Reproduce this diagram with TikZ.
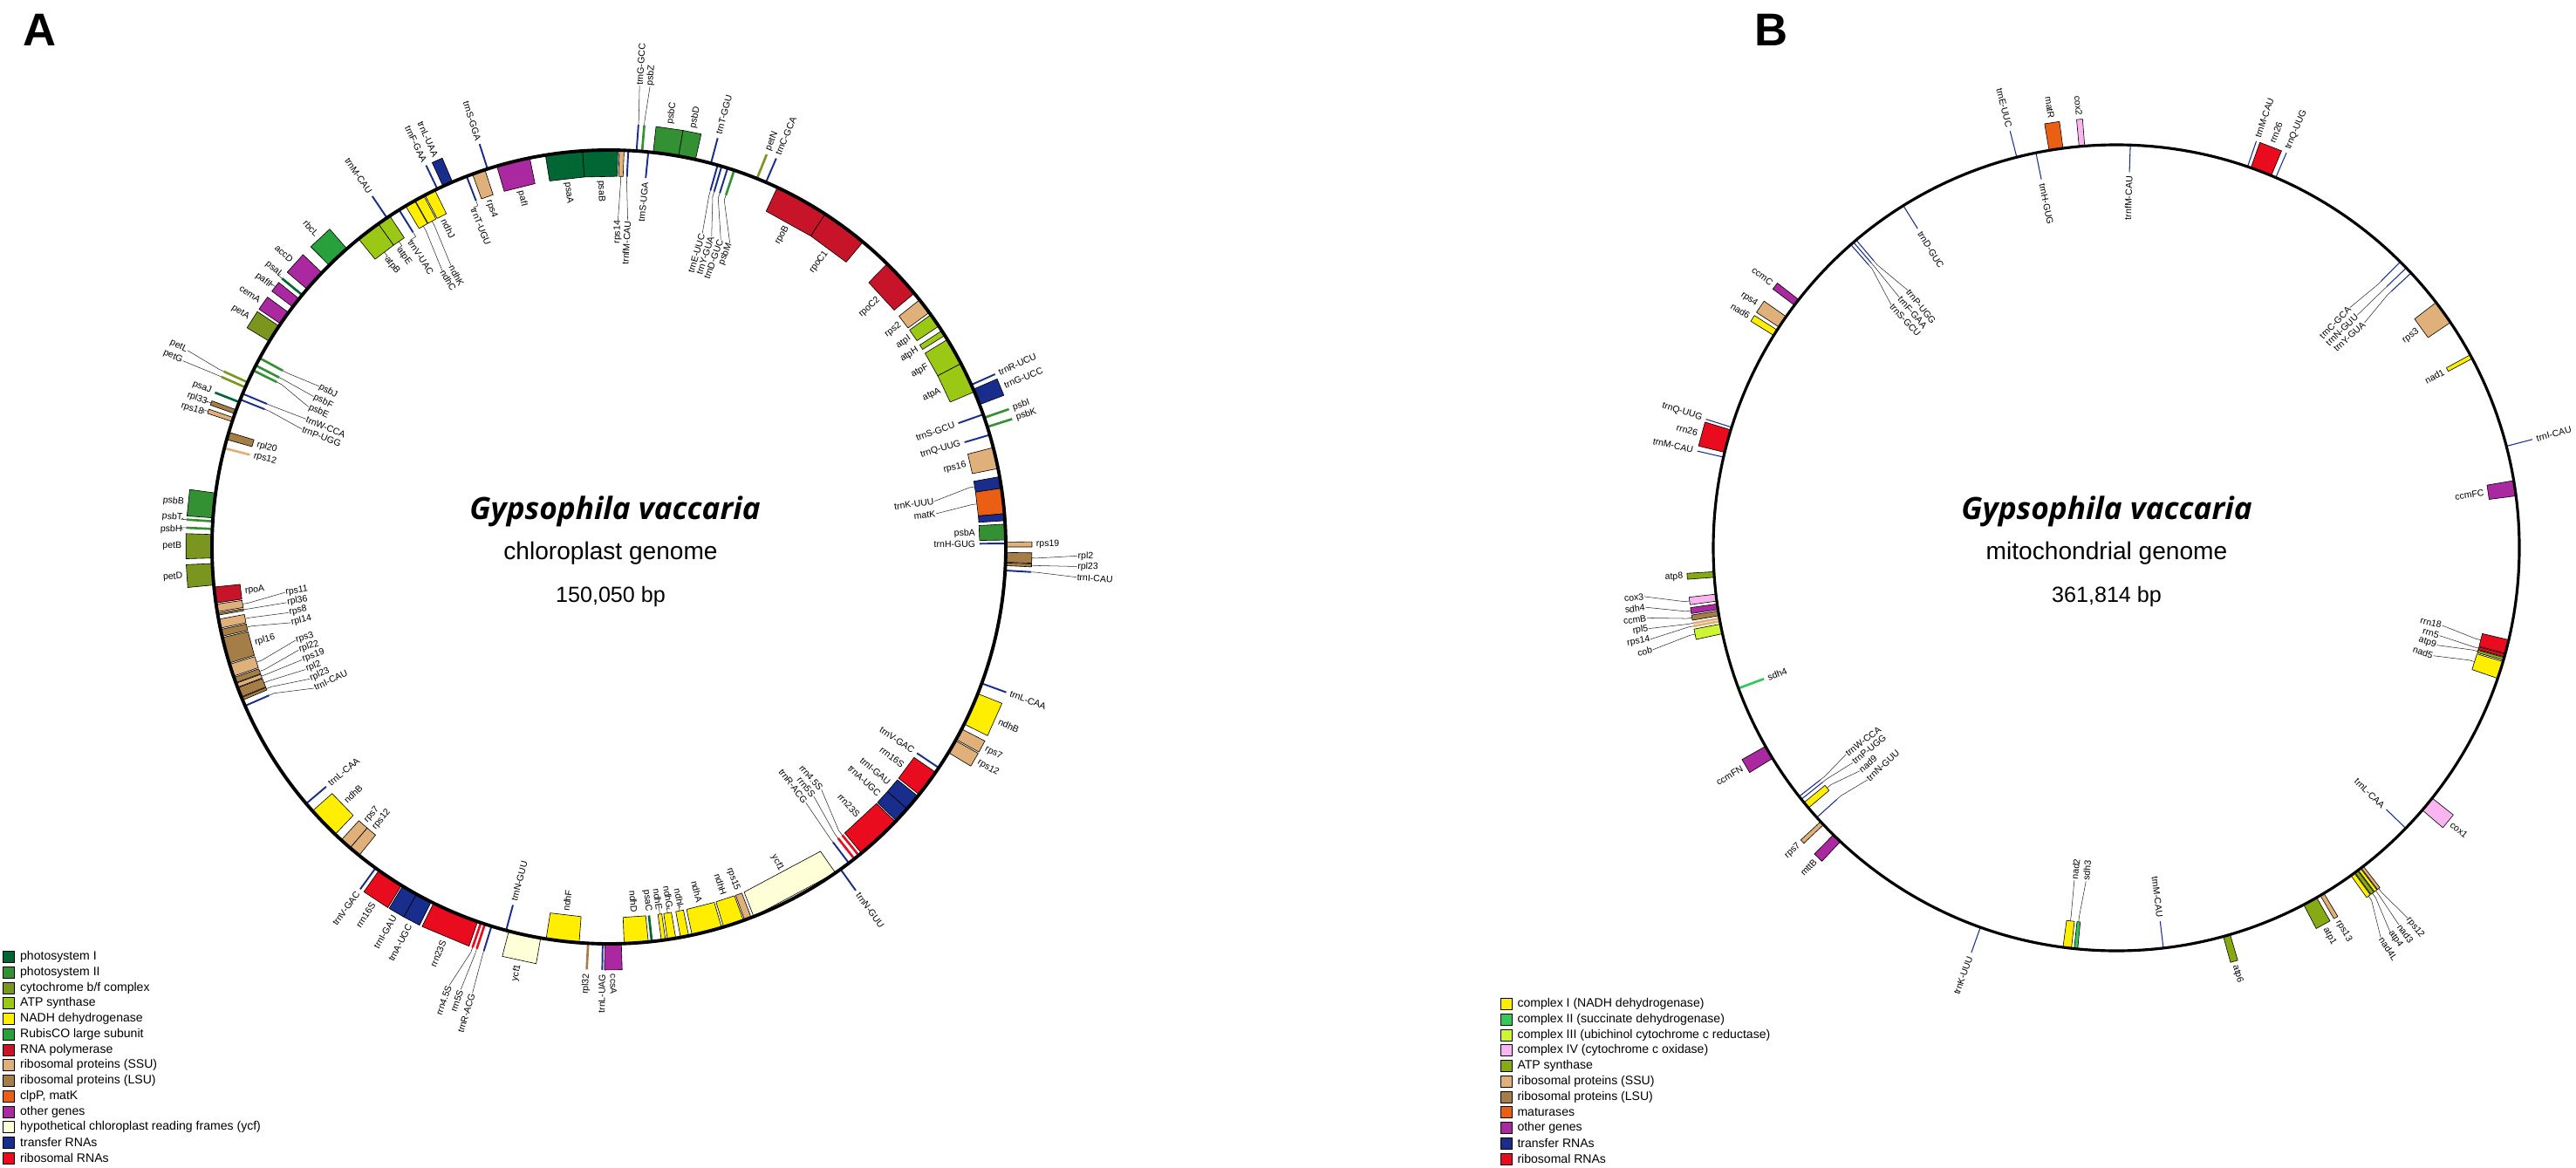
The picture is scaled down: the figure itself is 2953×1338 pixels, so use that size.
\documentclass[tikz,border=0pt]{standalone}
\usepackage{fontspec}
\setmainfont{Liberation Sans}
\newfontfamily\titlefont{Open Sans}
\usetikzlibrary{positioning}

\definecolor{psI}{RGB}{0,102,51}
\definecolor{psII}{RGB}{51,145,51}
\definecolor{cytbf}{RGB}{122,150,30}
\definecolor{atps}{RGB}{155,200,20}
\definecolor{ndh}{RGB}{255,238,0}
\definecolor{rbc}{RGB}{40,160,60}
\definecolor{rpo}{RGB}{200,20,40}
\definecolor{ssu}{RGB}{224,176,122}
\definecolor{lsu}{RGB}{165,125,70}
\definecolor{mat}{RGB}{235,95,20}
\definecolor{oth}{RGB}{170,40,160}
\definecolor{ycf}{RGB}{255,255,215}
\definecolor{trn}{RGB}{25,45,140}
\definecolor{rrn}{RGB}{232,12,30}
\definecolor{cxII}{RGB}{50,200,90}
\definecolor{cxIII}{RGB}{205,245,50}
\definecolor{cxIV}{RGB}{250,180,240}
\definecolor{atpm}{RGB}{135,170,20}

\tikzstyle{genebox}=[draw=black, line width=0.35pt, line join=round]
\tikzstyle{glab}=[inner sep=0.3pt, font=\fontsize{6}{7}\selectfont]
\tikzstyle{leader}=[draw=black!85, line width=0.3pt]
\tikzstyle{trna}=[draw=trn, line width=1.1pt]
\tikzstyle{tg}=[line width=1.5pt]
\tikzstyle{ring}=[draw=black, line width=2.2pt]
\tikzstyle{legbox}=[rectangle, draw=black, line width=0.4pt, minimum size=7.4pt, inner sep=0pt]
\tikzstyle{legtxt}=[inner sep=0pt, font=\fontsize{8}{9}\selectfont]
\tikzstyle{mapname}=[anchor=base, font=\titlefont\fontsize{20}{24}\selectfont\bfseries\itshape]
\tikzstyle{mapkind}=[anchor=base, font=\fontsize{16}{19}\selectfont]
\tikzstyle{mapsize}=[anchor=base, font=\fontsize{14.3}{17}\selectfont]
\tikzstyle{panel}=[anchor=base west, inner sep=0pt, font=\fontsize{30}{36}\selectfont\bfseries]

\newcounter{lbl}
\newcommand{\glabel}[5]{%
  \stepcounter{lbl}%
  \pgfmathsetmacro{\gsM}{90-(#2)}%
  \ifdim #4pt=0pt
    \let\gsL\gsM
    \pgfmathsetmacro{\gsR}{\gR+(#1)*(\gH+4)}%
  \else
    \pgfmathsetmacro{\gsL}{90-(#3)}%
    \pgfmathsetmacro{\gsR}{\gR+(#1)*(#4)}%
  \fi
  \pgfmathsetmacro{\gsD}{(#1)>0 ? \gsL : \gsL+180}%
  \pgfmathsetmacro{\gsD}{mod(\gsD+720,360)}%
  \pgfmathtruncatemacro{\gsF}{and(\gsD>90,\gsD<270)}%
  \ifnum\gsF=1
    \def\gsAnc{east}\pgfmathsetmacro{\gsRot}{\gsD-180}%
  \else
    \def\gsAnc{west}\let\gsRot\gsD
  \fi
  \node[glab, rotate=\gsRot, anchor=\gsAnc] (L\thelbl) at (\gsL:\gsR) {#5};
  \ifdim #4pt>0pt
    \pgfmathsetmacro{\gsE}{\gR+(#1)*\gH}%
    \pgfmathsetmacro{\gsK}{\gR+(#1)*(\gH+6)}%
    \draw[leader] (\gsM:\gsE) -- (\gsM:\gsK) -- (L\thelbl.\gsAnc);
  \fi}
\newcommand{\gpart}[4]{%
  \pgfmathsetmacro{\gsA}{90-(#2)}\pgfmathsetmacro{\gsB}{90-(#3)}%
  \pgfmathsetmacro{\gsT}{\gR+(#1)*\gH}%
  \filldraw[genebox, fill=#4] (\gsA:\gR) -- (\gsA:\gsT) -- (\gsB:\gsT) -- (\gsB:\gR) -- cycle;}
\newcommand{\gbox}[7]{\gpart{#1}{#2}{#3}{#4}\glabel{#1}{(#2+#3)/2}{#6}{#7}{#5}}
\newcommand{\gline}[6]{%
  \pgfmathsetmacro{\gsA}{90-(#2)}\pgfmathsetmacro{\gsT}{\gR+(#1)*\gH}%
  \draw[#3] (\gsA:\gR) -- (\gsA:\gsT);
  \glabel{#1}{#2}{#5}{#6}{#4}}

\begin{document}
\begin{tikzpicture}[x=0.02cm, y=0.02cm]
\useasboundingbox (0,0) rectangle (2953,-1338);

\node (panA) [panel] at (26,-53) {A};
\node (panB) [panel] at (2011,-53) {B};

\begin{scope}[shift={(698,-627)}]
\def\gR{455}\def\gH{30}
\gbox{1}{-58.8}{-56.2}{cytbf}{petA}{}{0}
\gbox{1}{-55.8}{-53.8}{oth}{cemA}{}{0}
\gbox{1}{-52.8}{-51.3}{oth}{pafII}{-52.3}{34}
\gline{1}{-50.6}{tg, psI}{psaI}{-50.3}{34}
\gbox{1}{-49.5}{-46.3}{oth}{accD}{}{0}
\gbox{1}{-44.8}{-41.3}{rbc}{rbcL}{}{0}
\gbox{-1}{-39.1}{-35.5}{atps}{atpB}{-37.6}{36}
\gbox{-1}{-35.5}{-33.5}{atps}{atpE}{-35.2}{36}
\gline{1}{-34.0}{trna}{trnM-CAU}{}{0}
\gline{-1}{-31.9}{trna}{trnV-UAC}{-33.0}{36}
\gbox{-1}{-30.8}{-29.3}{ndh}{ndhC}{-31.1}{85}
\gbox{-1}{-29.2}{-27.8}{ndh}{ndhK}{-29.3}{85}
\gbox{-1}{-27.6}{-26.0}{ndh}{ndhJ}{}{0}
\gline{1}{-25.6}{trna}{trnF-GAA}{}{0}
\gbox{1}{-24.7}{-23.2}{trn}{trnL-UAA}{}{0}
\gline{-1}{-21.0}{trna}{trnT-UGU}{-21.8}{36}
\gbox{-1}{-20.1}{-18.2}{ssu}{rps4}{}{0}
\gline{1}{-17.8}{trna}{trnS-GGA}{}{0}
\gbox{-1}{-16.4}{-11.5}{oth}{pafI}{}{0}
\gbox{-1}{-9.2}{-3.8}{psI}{psaA}{}{0}
\gbox{-1}{-3.8}{1.3}{psI}{psaB}{}{0}
\gbox{-1}{1.5}{2.2}{ssu}{rps14}{1.6}{80}
\gline{-1}{2.8}{trna}{trnfM-CAU}{3.3}{80}
\gline{1}{4.0}{trna}{trnG-GCC}{3.8}{75}
\gline{1}{4.8}{tg, psII}{psbZ}{5.1}{75}
\gline{-1}{5.7}{trna}{trnS-UGA}{}{0}
\gbox{1}{6.4}{10.1}{psII}{psbC}{}{0}
\gbox{1}{10.1}{12.6}{psII}{psbD}{}{0}
\gline{1}{14.9}{trna}{trnT-GGU}{}{0}
\gline{-1}{15.9}{trna}{trnE-UUC}{16.6}{80}
\gline{-1}{16.5}{trna}{trnY-GUA}{18.3}{80}
\gline{-1}{17.4}{trna}{trnD-GUC}{20.0}{80}
\gline{-1}{18.4}{tg, psII}{psbM}{21.7}{80}
\gline{1}{21.9}{tg, cytbf}{petN}{}{0}
\gline{1}{23.3}{trna}{trnC-GCA}{}{0}
\gbox{-1}{25.1}{33.0}{rpo}{rpoB}{}{0}
\gbox{-1}{33.0}{39.8}{rpo}{rpoC1}{}{0}
\gbox{-1}{44.5}{50.3}{rpo}{rpoC2}{}{0}
\gbox{-1}{51.5}{53.8}{ssu}{rps2}{}{0}
\gbox{-1}{54.2}{56.2}{atps}{atpI}{}{0}
\gbox{-1}{57.0}{57.8}{atps}{atpH}{}{0}
\gbox{-1}{58.5}{62.5}{atps}{atpF}{}{0}
\gbox{-1}{62.5}{67.0}{atps}{atpA}{}{0}
\gline{1}{65.9}{trna}{trnR-UCU}{}{0}
\gbox{1}{66.6}{69.0}{trn}{trnG-UCC}{}{0}
\gline{-1}{70.5}{trna}{trnS-GCU}{}{0}
\gline{1}{71.0}{tg, psII}{psbI}{}{0}
\gline{1}{72.4}{tg, psII}{psbK}{}{0}
\gline{-1}{73.6}{trna}{trnQ-UUG}{}{0}
\gbox{-1}{75.5}{78.6}{ssu}{rps16}{}{0}
\gbox{-1}{79.8}{81.5}{trn}{trnK-UUU}{82.0}{78}
\gbox{-1}{81.5}{85.2}{mat}{matK}{84.2}{78}
\gpart{-1}{85.2}{86.2}{trn}
\gbox{-1}{86.7}{89.0}{psII}{psbA}{}{0}
\gline{-1}{89.5}{trna}{trnH-GUG}{}{0}
\gbox{1}{89.3}{90.0}{ssu}{rps19}{}{0}
\gbox{1}{90.8}{92.2}{lsu}{rpl2}{91.1}{82}
\gbox{1}{92.3}{92.7}{lsu}{rpl23}{92.4}{82}
\gline{1}{93.4}{trna}{trnI-CAU}{93.7}{82}
\gline{1}{110.1}{trna}{trnL-CAA}{}{0}
\gbox{1}{111.7}{116.5}{ndh}{ndhB}{}{0}
\gbox{1}{117.3}{119.0}{ssu}{rps7}{}{0}
\gbox{1}{119.2}{121.2}{ssu}{rps12}{}{0}
\gline{-1}{123.8}{trna}{trnV-GAC}{}{0}
\gbox{-1}{124.6}{128.6}{rrn}{rrn16S}{}{0}
\gbox{-1}{128.9}{131.3}{trn}{trnI-GAU}{}{0}
\gbox{-1}{131.3}{133.6}{trn}{trnA-UGC}{}{0}
\gbox{-1}{133.8}{140.5}{rrn}{rrn23S}{}{0}
\gline{-1}{141.0}{tg, rrn}{rrn4.5S}{138.8}{85}
\gline{-1}{141.8}{tg, rrn}{rrn5S}{140.6}{85}
\gline{-1}{142.8}{trna}{trnR-ACG}{142.4}{85}
\gline{1}{144.3}{trna}{trnN-GUU}{}{0}
\gbox{-1}{145.2}{158.6}{ycf}{ycf1}{}{0}
\gbox{-1}{159.0}{160.0}{ssu}{rps15}{}{0}
\gbox{-1}{160.2}{163.2}{ndh}{ndhH}{}{0}
\gbox{-1}{163.5}{167.9}{ndh}{ndhA}{}{0}
\gbox{-1}{168.4}{169.6}{ndh}{ndhI}{168.7}{34}
\gbox{-1}{170.3}{171.5}{ndh}{ndhG}{170.4}{34}
\gbox{-1}{171.8}{172.4}{ndh}{ndhE}{172.1}{34}
\gline{-1}{173.8}{tg, psI}{psaC}{}{0}
\gbox{-1}{174.3}{177.8}{ndh}{ndhD}{}{0}
\gbox{1}{178.2}{180.6}{oth}{ccsA}{}{0}
\gline{1}{180.9}{trna}{trnL-UAG}{}{0}
\gline{1}{183.0}{tg, lsu}{rpl32}{}{0}
\gbox{-1}{184.3}{189.1}{ndh}{ndhF}{}{0}
\gbox{1}{189.9}{194.6}{ycf}{ycf1}{}{0}
\gline{-1}{195.0}{trna}{trnN-GUU}{}{0}
\gline{1}{197.2}{trna}{trnR-ACG}{197.0}{80}
\gline{1}{198.2}{tg, rrn}{rrn5S}{198.5}{80}
\gline{1}{198.8}{tg, rrn}{rrn4.5S}{200.0}{80}
\gbox{1}{199.3}{206.2}{rrn}{rrn23S}{}{0}
\gbox{1}{206.6}{209.0}{trn}{trnA-UGC}{}{0}
\gbox{1}{209.0}{211.3}{trn}{trnI-GAU}{}{0}
\gbox{1}{211.5}{215.4}{rrn}{rrn16S}{}{0}
\gline{1}{216.0}{trna}{trnV-GAC}{}{0}
\gbox{-1}{219.0}{220.7}{ssu}{rps12}{}{0}
\gbox{-1}{220.7}{222.4}{ssu}{rps7}{}{0}
\gbox{-1}{223.6}{228.3}{ndh}{ndhB}{}{0}
\gline{-1}{229.7}{trna}{trnL-CAA}{}{0}
\gline{-1}{246.4}{trna}{trnI-CAU}{244.4}{80}
\gbox{-1}{247.3}{247.7}{lsu}{rpl23}{246.2}{80}
\gbox{-1}{247.8}{249.2}{lsu}{rpl2}{248.0}{80}
\gbox{-1}{249.3}{249.9}{ssu}{rps19}{249.8}{80}
\gbox{-1}{250.0}{250.8}{lsu}{rpl22}{251.6}{80}
\gbox{-1}{251.0}{252.8}{ssu}{rps3}{253.4}{80}
\gbox{-1}{253.0}{256.8}{lsu}{rpl16}{}{0}
\gbox{-1}{257.0}{258.0}{lsu}{rpl14}{256.6}{80}
\gbox{-1}{258.2}{259.5}{ssu}{rps8}{258.4}{80}
\gbox{-1}{260.1}{260.4}{lsu}{rpl36}{260.2}{80}
\gbox{-1}{260.6}{261.7}{ssu}{rps11}{262.0}{80}
\gbox{-1}{261.9}{264.2}{rpo}{rpoA}{}{0}
\gbox{1}{264.5}{267.6}{cytbf}{petD}{}{0}
\gbox{1}{268.4}{271.8}{cytbf}{petB}{}{0}
\gline{1}{272.6}{tg, psII}{psbH}{272.3}{34}
\gline{1}{273.7}{tg, psII}{psbT}{273.9}{34}
\gbox{1}{274.2}{277.8}{psII}{psbB}{}{0}
\gline{-1}{284.4}{tg, ssu}{rps12}{}{0}
\gbox{-1}{285.7}{286.8}{lsu}{rpl20}{}{0}
\gbox{1}{288.4}{289.0}{ssu}{rps18}{288.3}{34}
\gbox{1}{289.6}{290.2}{lsu}{rpl33}{289.8}{34}
\gline{1}{291.4}{tg, psI}{psaJ}{}{0}
\gline{-1}{291.8}{trna}{trnP-UGG}{291.0}{78}
\gline{-1}{292.7}{trna}{trnW-CCA}{292.9}{78}
\gline{1}{293.7}{tg, cytbf}{petG}{293.6}{78}
\gline{1}{294.5}{tg, cytbf}{petL}{295.0}{78}
\gline{-1}{296.4}{tg, psII}{psbE}{295.0}{75}
\gline{-1}{297.2}{tg, psII}{psbF}{297.0}{75}
\gline{-1}{298.4}{tg, psII}{psbJ}{299.0}{75}
\draw[ring] (0,0) circle[radius=\gR];
\end{scope}

\node (nameA) [mapname] at (705,-595) {Gypsophila vaccaria};
\node (kindA) [mapkind] at (700,-641) {chloroplast genome};
\node (sizeA) [mapsize] at (700,-690) {150,050 bp};

\begin{scope}[shift={(2426,-628)}, trna/.style={draw=trn, line width=0.6pt}]
\def\gR{462}\def\gH{31}
\gline{-1}{2.0}{trna}{trnfM-CAU}{}{0}
\gline{1}{19.0}{trna}{trnM-CAU}{}{0}
\gbox{1}{19.5}{22.6}{rrn}{rrn26}{}{0}
\gline{1}{23.3}{trna}{trnQ-UUG}{}{0}
\gline{-1}{44.8}{trna}{trnC-GCA}{44.2}{78}
\gline{-1}{46.0}{trna}{trnN-GUU}{46.0}{78}
\gline{-1}{47.0}{trna}{trnY-GUA}{47.8}{78}
\gbox{-1}{52.5}{56.0}{ssu}{rps3}{}{0}
\gbox{-1}{61.4}{62.0}{ndh}{nad1}{}{0}
\gline{1}{75.4}{trna}{trnI-CAU}{}{0}
\gbox{-1}{80.4}{82.6}{oth}{ccmFC}{}{0}
\gbox{-1}{103.2}{105.2}{rrn}{rrn18}{103.4}{78}
\gbox{-1}{105.3}{105.7}{rrn}{rrn5}{105.2}{78}
\gbox{-1}{105.8}{106.2}{atpm}{atp9}{106.9}{78}
\gbox{-1}{106.4}{108.9}{ndh}{nad5}{108.8}{78}
\gbox{1}{128.4}{130.6}{cxIV}{cox1}{}{0}
\gline{-1}{134.1}{trna}{trnL-CAA}{}{0}
\gbox{1}{142.2}{142.6}{ssu}{rps12}{141.8}{78}
\gbox{1}{142.7}{143.1}{ndh}{nad3}{143.15}{78}
\gbox{1}{143.2}{143.7}{atpm}{atp4}{144.5}{78}
\gbox{1}{143.8}{144.4}{ndh}{nad4L}{145.85}{78}
\gbox{1}{149.0}{149.6}{ssu}{rps13}{}{0}
\gbox{1}{150.2}{152.3}{atpm}{atp1}{}{0}
\gbox{1}{163.6}{164.6}{atpm}{atp6}{}{0}
\gline{-1}{173.3}{trna}{trnM-CAU}{}{0}
\gbox{-1}{185.5}{186.0}{cxII}{sdh3}{185.2}{78}
\gbox{-1}{186.4}{187.6}{ndh}{nad2}{187.2}{78}
\gline{1}{199.7}{trna}{trnK-UUU}{}{0}
\gbox{1}{223.2}{224.6}{oth}{mttB}{}{0}
\gbox{1}{226.6}{227.2}{ssu}{rps7}{}{0}
\gline{-1}{228.0}{trna}{trnN-GUU}{227.0}{72}
\gbox{-1}{229.8}{230.8}{ndh}{nad9}{229.0}{72}
\gline{-1}{231.4}{trna}{trnP-UGG}{230.8}{72}
\gline{-1}{231.9}{trna}{trnW-CCA}{232.6}{72}
\gbox{1}{238.5}{240.5}{oth}{ccmFN}{}{0}
\gline{-1}{249.6}{tg, cxII}{sdh4}{}{0}
\gbox{1}{257.7}{259.1}{cxIII}{cob}{257.6}{82}
\gline{1}{259.5}{tg, ssu}{rps14}{258.9}{82}
\gline{1}{259.9}{tg, ssu}{rpl5}{260.2}{82}
\gbox{1}{260.3}{261.0}{lsu}{ccmB}{261.5}{82}
\gbox{1}{261.2}{262.0}{oth}{sdh4}{262.8}{82}
\gbox{1}{262.4}{263.4}{cxIV}{cox3}{264.1}{82}
\gbox{1}{265.8}{266.6}{atpm}{atp8}{}{0}
\gline{1}{283.0}{trna}{trnM-CAU}{}{0}
\gbox{1}{283.7}{287.0}{rrn}{rrn26}{}{0}
\gline{1}{287.4}{trna}{trnQ-UUG}{}{0}
\gbox{1}{301.8}{302.7}{ndh}{nad6}{}{0}
\gbox{1}{303.2}{305.0}{ssu}{rps4}{}{0}
\gbox{1}{307.0}{308.0}{oth}{ccmC}{}{0}
\gline{-1}{318.8}{trna}{trnS-GCU}{317.2}{82}
\gline{-1}{319.3}{trna}{trnF-GAA}{319.1}{82}
\gline{-1}{319.8}{trna}{trnP-UGG}{321.0}{82}
\gline{-1}{328.1}{trna}{trnD-GUC}{}{0}
\gline{1}{345.7}{trna}{trnE-UUC}{}{0}
\gline{-1}{348.5}{trna}{trnH-GUG}{}{0}
\gbox{1}{350.4}{352.4}{mat}{matR}{}{0}
\gbox{1}{354.7}{355.5}{cxIV}{cox2}{}{0}
\draw[ring, line width=1.8pt] (0,0) circle[radius=\gR];
\end{scope}

\node (nameB) [mapname] at (2415,-595) {Gypsophila vaccaria};
\node (kindB) [mapkind] at (2415,-641) {mitochondrial genome};
\node (sizeB) [mapsize] at (2415,-690) {361,814 bp};

\node (kPSI) [legbox, fill=psI] at (10,-1097) {};
\node (kPSII) [legbox, fill=psII, below=2.3pt of kPSI] {};
\node (kCYT) [legbox, fill=cytbf, below=2.3pt of kPSII] {};
\node (kATP) [legbox, fill=atps, below=2.3pt of kCYT] {};
\node (kNDH) [legbox, fill=ndh, below=2.3pt of kATP] {};
\node (kRBC) [legbox, fill=rbc, below=2.3pt of kNDH] {};
\node (kRPO) [legbox, fill=rpo, below=2.3pt of kRBC] {};
\node (kSSU) [legbox, fill=ssu, below=2.3pt of kRPO] {};
\node (kLSU) [legbox, fill=lsu, below=2.3pt of kSSU] {};
\node (kMAT) [legbox, fill=mat, below=2.3pt of kLSU] {};
\node (kOTH) [legbox, fill=oth, below=2.3pt of kMAT] {};
\node (kYCF) [legbox, fill=ycf, below=2.3pt of kOTH] {};
\node (kTRN) [legbox, fill=trn, below=2.3pt of kYCF] {};
\node (kRRN) [legbox, fill=rrn, below=2.3pt of kTRN] {};
\node (tPSI) [legtxt, right=3.4pt of kPSI] {photosystem I};
\node (tPSII) [legtxt, right=3.4pt of kPSII] {photosystem II};
\node (tCYT) [legtxt, right=3.4pt of kCYT] {cytochrome b/f complex};
\node (tATP) [legtxt, right=3.4pt of kATP] {ATP synthase};
\node (tNDH) [legtxt, right=3.4pt of kNDH] {NADH dehydrogenase};
\node (tRBC) [legtxt, right=3.4pt of kRBC] {RubisCO large subunit};
\node (tRPO) [legtxt, right=3.4pt of kRPO] {RNA polymerase};
\node (tSSU) [legtxt, right=3.4pt of kSSU] {ribosomal proteins (SSU)};
\node (tLSU) [legtxt, right=3.4pt of kLSU] {ribosomal proteins (LSU)};
\node (tMAT) [legtxt, right=3.4pt of kMAT] {clpP, matK};
\node (tOTH) [legtxt, right=3.4pt of kOTH] {other genes};
\node (tYCF) [legtxt, right=3.4pt of kYCF] {hypothetical chloroplast reading frames (ycf)};
\node (tTRN) [legtxt, right=3.4pt of kTRN] {transfer RNAs};
\node (tRRN) [legtxt, right=3.4pt of kRRN] {ribosomal RNAs};

\node (mCI) [legbox, fill=ndh] at (1727,-1151) {};
\node (mCII) [legbox, fill=cxII, below=2.3pt of mCI] {};
\node (mCIII) [legbox, fill=cxIII, below=2.3pt of mCII] {};
\node (mCIV) [legbox, fill=cxIV, below=2.3pt of mCIII] {};
\node (mATP) [legbox, fill=atpm, below=2.3pt of mCIV] {};
\node (mSSU) [legbox, fill=ssu, below=2.3pt of mATP] {};
\node (mLSU) [legbox, fill=lsu, below=2.3pt of mSSU] {};
\node (mMAT) [legbox, fill=mat, below=2.3pt of mLSU] {};
\node (mOTH) [legbox, fill=oth, below=2.3pt of mMAT] {};
\node (mTRN) [legbox, fill=trn, below=2.3pt of mOTH] {};
\node (mRRN) [legbox, fill=rrn, below=2.3pt of mTRN] {};
\node (uCI) [legtxt, right=3pt of mCI] {complex I (NADH dehydrogenase)};
\node (uCII) [legtxt, right=3pt of mCII] {complex II (succinate dehydrogenase)};
\node (uCIII) [legtxt, right=3pt of mCIII] {complex III (ubichinol cytochrome c reductase)};
\node (uCIV) [legtxt, right=3pt of mCIV] {complex IV (cytochrome c oxidase)};
\node (uATP) [legtxt, right=3pt of mATP] {ATP synthase};
\node (uSSU) [legtxt, right=3pt of mSSU] {ribosomal proteins (SSU)};
\node (uLSU) [legtxt, right=3pt of mLSU] {ribosomal proteins (LSU)};
\node (uMAT) [legtxt, right=3pt of mMAT] {maturases};
\node (uOTH) [legtxt, right=3pt of mOTH] {other genes};
\node (uTRN) [legtxt, right=3pt of mTRN] {transfer RNAs};
\node (uRRN) [legtxt, right=3pt of mRRN] {ribosomal RNAs};
\end{tikzpicture}
\end{document}
